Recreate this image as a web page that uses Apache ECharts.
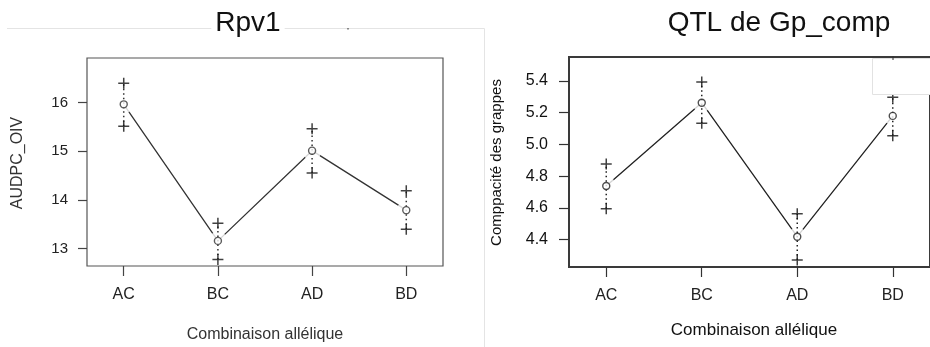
<!DOCTYPE html>
<html>
<head>
<meta charset="utf-8">
<script src="https://cdn.jsdelivr.net/npm/echarts@6/dist/echarts.min.js"></script>
<style>
html,body{margin:0;padding:0;background:#fff;}
#chart{width:930px;height:347px;}
</style>
</head>
<body>
<div id="chart"></div>
<script>
// ---- data ----
var categories = ['AC', 'BC', 'AD', 'BD'];
var rpv1Mean  = [15.96, 13.16, 15.01, 13.79];
var rpv1Upper = [16.39, 13.52, 15.46, 14.19];
var rpv1Lower = [15.51, 12.78, 14.55, 13.40];
var gpMean  = [4.738, 5.263, 4.419, 5.180];
var gpUpper = [4.877, 5.394, 4.564, 5.297];
var gpLower = [4.595, 5.133, 4.272, 5.055];
var rpv1Ticks = [13, 14, 15, 16];
var gpTicks = [4.4, 4.6, 4.8, 5.0, 5.2, 5.4];
var catPositions = [1, 2, 3, 4];

var FONT = "'Liberation Sans', Arial, Helvetica, sans-serif";
var plusPath = 'path://M0,5L10,5M5,0L5,10';

function pts(arr) { return arr.map(function (v, i) { return [catPositions[i], v]; }); }
function bars(lo, hi) { return lo.map(function (v, i) { return [catPositions[i], v, hi[i]]; }); }

function panelSeries(gi, mean, lo, hi, col) {
  return [
    { type: 'line', xAxisIndex: gi, yAxisIndex: gi, data: pts(mean), symbol: 'none',
      lineStyle: { color: col, width: 1.3 }, z: 2, silent: true, animation: false },
    { type: 'scatter', xAxisIndex: gi, yAxisIndex: gi, data: pts(mean), symbol: 'circle',
      symbolSize: 19, itemStyle: { color: '#fff' }, z: 3, silent: true, animation: false },
    { type: 'custom', xAxisIndex: gi, yAxisIndex: gi, data: bars(lo, hi), z: 4, silent: true, animation: false,
      renderItem: function (params, api) {
        var a = api.coord([api.value(0), api.value(1)]);
        var b = api.coord([api.value(0), api.value(2)]);
        return { type: 'line', shape: { x1: a[0], y1: a[1], x2: b[0], y2: b[1] },
          style: { stroke: col, lineWidth: 1.5, lineDash: [1.5, 3] } };
      } },
    { type: 'scatter', xAxisIndex: gi, yAxisIndex: gi, data: pts(hi).concat(pts(lo)), symbol: plusPath,
      symbolSize: 11, itemStyle: { color: 'none', borderColor: '#111', borderWidth: 1.5 }, z: 5, silent: true, animation: false },
    { type: 'scatter', xAxisIndex: gi, yAxisIndex: gi, data: pts(mean), symbol: 'circle',
      symbolSize: 7, itemStyle: { color: '#fff', borderColor: col, borderWidth: 1.4 }, z: 6, silent: true, animation: false }
  ];
}

function xAxisDef(gi, col, margin, fs) {
  return { type: 'value', gridIndex: gi, min: 0.61, max: 4.39,
    axisLine: { show: false }, splitLine: { show: false },
    axisTick: { show: true, length: 10, customValues: catPositions, lineStyle: { color: col, width: 1.2 } },
    axisLabel: { customValues: catPositions, margin: margin, color: '#222', fontSize: fs, fontFamily: FONT,
      formatter: function (v) { return categories[Math.round(v) - 1]; } } };
}

var chart = echarts.init(document.getElementById('chart'), null, { renderer: 'canvas' });
chart.setOption({
  animation: false,
  backgroundColor: '#fff',
  grid: [
    { left: 87, top: 58, width: 356, height: 208, show: true, borderColor: '#555', borderWidth: 1.2, backgroundColor: 'transparent' },
    { left: 569, top: 57, width: 371, height: 210, show: true, borderColor: '#3a3a3a', borderWidth: 2, backgroundColor: 'transparent' }
  ],
  xAxis: [xAxisDef(0, '#444', 21, 16), xAxisDef(1, '#333', 21, 16)],
  yAxis: [
    { type: 'value', gridIndex: 0, min: 12.645, max: 16.91, axisLine: { show: false }, splitLine: { show: false },
      axisTick: { show: true, length: 9, customValues: rpv1Ticks, lineStyle: { color: '#444', width: 1.2 } },
      axisLabel: { customValues: rpv1Ticks, margin: 19, color: '#222', fontSize: 15, fontFamily: FONT } },
    { type: 'value', gridIndex: 1, min: 4.228, max: 5.551, axisLine: { show: false }, splitLine: { show: false },
      axisTick: { show: true, length: 10, customValues: gpTicks, lineStyle: { color: '#333', width: 1.2 } },
      axisLabel: { customValues: gpTicks, margin: 21, color: '#111', fontSize: 16, fontFamily: FONT,
        formatter: function (v) { return v.toFixed(1); } } }
  ],
  series: panelSeries(0, rpv1Mean, rpv1Lower, rpv1Upper, '#333').concat(panelSeries(1, gpMean, gpLower, gpUpper, '#222')),
  graphic: [
    { type: 'line', shape: { x1: 7, y1: 28.5, x2: 484.5, y2: 28.5 }, style: { stroke: '#e4e4e4', lineWidth: 1 }, z: 0, silent: true },
    { type: 'line', shape: { x1: 484.5, y1: 28.5, x2: 484.5, y2: 347 }, style: { stroke: '#e4e4e4', lineWidth: 1 }, z: 0, silent: true },
    { type: 'rect', shape: { x: 347, y: 28, width: 2, height: 1.5 }, style: { fill: '#888' }, z: 1, silent: true },
    { type: 'text', x: 248, y: 23.5, z: 10, silent: true,
      style: { text: 'Rpv1', fill: '#111', font: '28px ' + FONT, align: 'center', verticalAlign: 'middle', backgroundColor: '#fff', padding: [0, 4] } },
    { type: 'text', x: 779, y: 23.5, z: 10, silent: true,
      style: { text: 'QTL de Gp_comp', fill: '#111', font: '28px ' + FONT, align: 'center', verticalAlign: 'middle' } },
    { type: 'text', x: 265, y: 334.5, z: 10, silent: true,
      style: { text: 'Combinaison allélique', fill: '#333', font: '16px ' + FONT, align: 'center', verticalAlign: 'middle' } },
    { type: 'text', x: 754, y: 330.5, z: 10, silent: true,
      style: { text: 'Combinaison allélique', fill: '#111', font: '17px ' + FONT, align: 'center', verticalAlign: 'middle' } },
    { type: 'text', x: 18, y: 163, rotation: Math.PI / 2, z: 10, silent: true,
      style: { text: 'AUDPC_OIV', fill: '#333', font: '16px ' + FONT, align: 'center', verticalAlign: 'middle' } },
    { type: 'text', x: 497, y: 162.5, rotation: Math.PI / 2, z: 10, silent: true,
      style: { text: 'Comppacité des grappes', fill: '#111', font: '15px ' + FONT, align: 'center', verticalAlign: 'middle' } },
    { type: 'rect', shape: { x: 872.5, y: 58.5, width: 60, height: 36 }, style: { fill: '#fff', stroke: '#e2e2e2', lineWidth: 1 }, z: 100, silent: true },
    { type: 'line', shape: { x1: 893, y1: 56, x2: 893, y2: 60 }, style: { stroke: '#333', lineWidth: 1 }, z: 101, silent: true }
  ]
});
</script>
</body>
</html>
